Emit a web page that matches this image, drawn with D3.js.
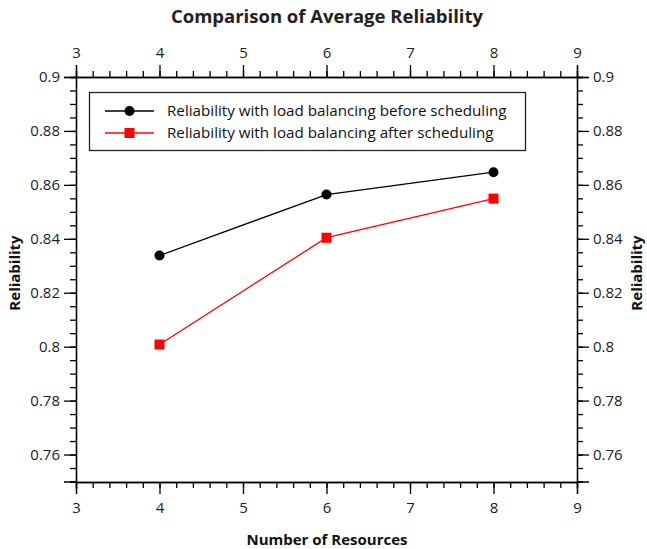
<!DOCTYPE html>
<html>
<head>
<meta charset="utf-8">
<script src="https://cdn.jsdelivr.net/npm/d3@7"></script>
<style>
body { margin: 0; background: #fff; }
text { font-family: "Open Sans", "Noto Sans", sans-serif; }
</style>
</head>
<body>
<script>
var w = 647;
var h = 549;
var margin = {top: 77, right: 70, bottom: 67, left: 76};

var resources = [4, 6, 8];
var beforeScheduling = [0.8338, 0.8564, 0.8647];
var afterScheduling = [0.8008, 0.8404, 0.8549];
var seriesNames = ["Reliability with load balancing before scheduling",
                   "Reliability with load balancing after scheduling"];
var xTicks = [3, 4, 5, 6, 7, 8, 9];
var yTicks = [0.76, 0.78, 0.8, 0.82, 0.84, 0.86, 0.88, 0.9];

var xScale = d3.scaleLinear()
    .domain([3, 9])
    .range([margin.left, w - margin.right]);
var yScale = d3.scaleLinear()
    .domain([0.75, 0.9])
    .range([h - margin.bottom - 0.5, margin.top]);

var svg = d3.select("body")
    .append("svg")
    .attr("width", w)
    .attr("height", h);

var fmt = function(d){ return d3.format("~g")(d); };
var minorX = d3.range(3, 9.001, 0.2);
var minorY = d3.range(0.75, 0.9001, 0.005);

function styleAxis(g){
    g.selectAll("path").attr("stroke", "#000").attr("stroke-width", 1.3);
    g.selectAll("line").attr("stroke", "#000").attr("stroke-width", 1.3);
    g.selectAll("text").attr("font-size", "15px").attr("fill", "#222");
}

// minor ticks
svg.append("g")
    .attr("transform", "translate(0," + (h - margin.bottom) + ")")
    .call(d3.axisBottom(xScale).tickValues(minorX).tickSize(6).tickFormat(""))
    .call(styleAxis);
svg.append("g")
    .attr("transform", "translate(0," + margin.top + ")")
    .call(d3.axisTop(xScale).tickValues(minorX).tickSize(6).tickFormat(""))
    .call(styleAxis);
svg.append("g")
    .attr("transform", "translate(" + margin.left + ",0)")
    .call(d3.axisLeft(yScale).tickValues(minorY).tickSize(6).tickFormat(""))
    .call(styleAxis);
svg.append("g")
    .attr("transform", "translate(" + (w - margin.right) + ",0)")
    .call(d3.axisRight(yScale).tickValues(minorY).tickSize(6).tickFormat(""))
    .call(styleAxis);

// major ticks
svg.append("g")
    .attr("transform", "translate(0," + (h - margin.bottom) + ")")
    .call(d3.axisBottom(xScale).tickValues(xTicks).tickSize(12).tickPadding(8).tickFormat(fmt))
    .call(styleAxis);
svg.append("g")
    .attr("transform", "translate(0," + margin.top + ")")
    .call(d3.axisTop(xScale).tickValues(xTicks).tickSize(12).tickPadding(7).tickFormat(fmt))
    .call(styleAxis);
svg.append("g")
    .attr("transform", "translate(" + margin.left + ",0)")
    .call(d3.axisLeft(yScale).tickValues(yTicks).tickSize(12).tickPadding(4).tickFormat(fmt))
    .call(styleAxis);
svg.append("g")
    .attr("transform", "translate(" + (w - margin.right) + ",0)")
    .call(d3.axisRight(yScale).tickValues(yTicks).tickSize(12).tickPadding(4).tickFormat(fmt))
    .call(styleAxis);

// titles
svg.append("text")
    .attr("x", 327).attr("y", 23)
    .attr("text-anchor", "middle")
    .attr("font-size", "18.5px").attr("font-weight", "bold").attr("fill", "#222")
    .text("Comparison of Average Reliability");
svg.append("text")
    .attr("x", 327).attr("y", 545)
    .attr("text-anchor", "middle")
    .attr("font-size", "15px").attr("font-weight", "bold").attr("fill", "#111")
    .text("Number of Resources");
svg.append("text")
    .attr("transform", "translate(20," + 273 + ") rotate(-90)")
    .attr("text-anchor", "middle")
    .attr("font-size", "15px").attr("font-weight", "bold").attr("fill", "#111")
    .text("Reliability");
svg.append("text")
    .attr("transform", "translate(642," + 273 + ") rotate(-90)")
    .attr("text-anchor", "middle")
    .attr("font-size", "15px").attr("font-weight", "bold").attr("fill", "#111")
    .text("Reliability");

// lines
var line = d3.line()
    .x(function(d, i){ return xScale(resources[i]); })
    .y(function(d){ return yScale(d); });

svg.append("path")
    .datum(beforeScheduling)
    .attr("d", line)
    .attr("fill", "none").attr("stroke", "#000").attr("stroke-width", 1.3);
svg.append("path")
    .datum(afterScheduling)
    .attr("d", line)
    .attr("fill", "none").attr("stroke", "#f00").attr("stroke-width", 1.3);

svg.selectAll("circle.before")
    .data(beforeScheduling)
    .enter()
    .append("circle")
    .attr("class", "before")
    .attr("cx", function(d, i){ return xScale(resources[i]); })
    .attr("cy", function(d){ return yScale(d); })
    .attr("r", 5)
    .attr("fill", "#000");
svg.selectAll("rect.after")
    .data(afterScheduling)
    .enter()
    .append("rect")
    .attr("class", "after")
    .attr("x", function(d, i){ return xScale(resources[i]) - 5; })
    .attr("y", function(d){ return yScale(d) - 5; })
    .attr("width", 10).attr("height", 10)
    .attr("fill", "#f00");

// legend
var legend = svg.append("g");
legend.append("rect")
    .attr("x", 89.5).attr("y", 92.5)
    .attr("width", 436).attr("height", 58)
    .attr("fill", "#fff").attr("stroke", "#222").attr("stroke-width", 1.3);
var ly = [111, 133];
legend.append("line").attr("x1", 105).attr("x2", 154).attr("y1", ly[0]).attr("y2", ly[0])
    .attr("stroke", "#000").attr("stroke-width", 1.3);
legend.append("circle").attr("cx", 129.5).attr("cy", ly[0]).attr("r", 5).attr("fill", "#000");
legend.append("line").attr("x1", 105).attr("x2", 154).attr("y1", ly[1]).attr("y2", ly[1])
    .attr("stroke", "#f00").attr("stroke-width", 1.3);
legend.append("rect").attr("x", 124.5).attr("y", ly[1] - 5).attr("width", 10).attr("height", 10).attr("fill", "#f00");
legend.selectAll("text.lg")
    .data(seriesNames)
    .enter()
    .append("text")
    .attr("class", "lg")
    .attr("x", 167)
    .attr("y", function(d, i){ return ly[i] + 5; })
    .attr("font-size", "15.2px").attr("fill", "#111")
    .text(function(d){ return d; });
</script>
</body>
</html>
